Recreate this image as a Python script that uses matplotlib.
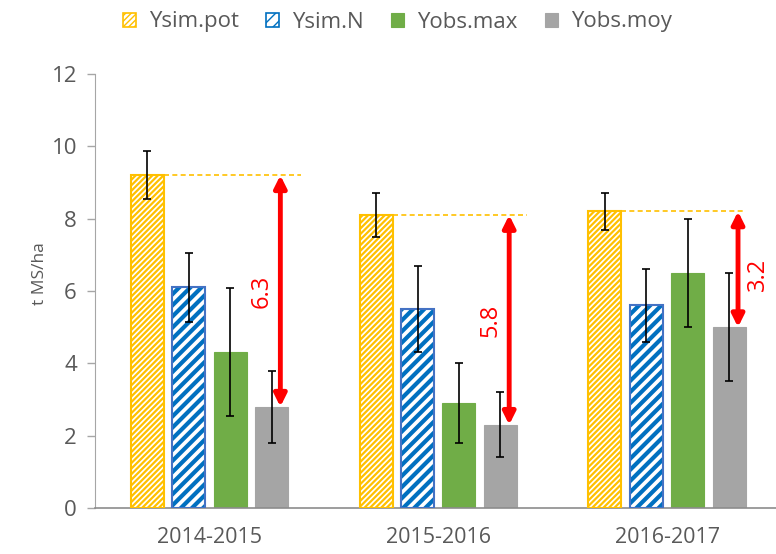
import numpy as np
import matplotlib
matplotlib.use("Agg")
import matplotlib.pyplot as plt
from matplotlib.patches import Patch

plt.rcParams['font.family'] = ['Open Sans', 'DejaVu Sans']

seasons = ["2014-2015", "2015-2016", "2016-2017"]
series = ["Ysim.pot", "Ysim.N", "Yobs.max", "Yobs.moy"]

ysim_pot = [9.2, 8.1, 8.2]
ysim_n = [6.1, 5.5, 5.6]
yobs_max = [4.3, 2.9, 6.5]
yobs_moy = [2.8, 2.3, 5.0]

err_pot = [0.67, 0.6, 0.5]
err_n = [0.95, 1.18, 1.0]
err_max = [1.77, 1.1, 1.5]
err_moy = [1.0, 0.9, 1.5]

gaps = ["6.3", "5.8", "3.2"]

values = [ysim_pot, ysim_n, yobs_max, yobs_moy]
errors = [err_pot, err_n, err_max, err_moy]

TEXT = "#595959"
styles = [
    dict(face="white", hatch="//////", hcolor="#FFC000", edge="#FFC000", hlw=1.6),
    dict(face="white", hatch="///", hcolor="#0070C0", edge="#4472C4", hlw=3.0),
    dict(face="#70AD47", hatch=None, hcolor=None, edge="#70AD47", hlw=1.0),
    dict(face="#A5A5A5", hatch=None, hcolor=None, edge="#A5A5A5", hlw=1.0),
]

fig = plt.figure(figsize=(7.76, 5.54), dpi=100)
ax = fig.add_axes([95 / 776, 46 / 554, 686.5 / 776, 434 / 554])

x = np.arange(len(seasons))
width = 0.144
pitch = 0.181

handles = []
for i, (vals, errs, st) in enumerate(zip(values, errors, styles)):
    pos = x + (i - 1.5) * pitch
    if st["hatch"]:
        with plt.rc_context({"hatch.linewidth": st["hlw"]}):
            ax.bar(pos, vals, width, color=st["face"], edgecolor=st["hcolor"],
                   hatch=st["hatch"], linewidth=0, zorder=2)
            h = Patch(facecolor=st["face"], edgecolor=st["hcolor"],
                      hatch=st["hatch"], linewidth=1.2)
        ax.bar(pos, vals, width, color="none", edgecolor=st["edge"], linewidth=1.5, zorder=3)
    else:
        ax.bar(pos, vals, width, color=st["face"], edgecolor=st["edge"],
               linewidth=0.8, zorder=2)
        h = Patch(facecolor=st["face"], edgecolor=st["edge"], linewidth=0.8)
    ax.errorbar(pos, vals, yerr=errs, fmt="none", ecolor="black", elinewidth=1.2,
                capsize=3, capthick=1.2, zorder=4)
    handles.append(h)

# dashed reference lines and gap arrows
dash_end = [0.40, 0.39, 0.345]
arrow_off = 0.31
for j in range(len(seasons)):
    x0 = x[j] - 1.5 * pitch + width / 2
    ax.plot([x0, x[j] + dash_end[j]], [ysim_pot[j], ysim_pot[j]], ls=(0, (3, 2)),
            color="#FFC000", lw=1.2, zorder=1)
    xa = x[j] + arrow_off
    ax.annotate("", xy=(xa, yobs_moy[j]), xytext=(xa, ysim_pot[j]),
                arrowprops=dict(arrowstyle="<|-|>", color="red", lw=3.5,
                                mutation_scale=18, shrinkA=0, shrinkB=0), zorder=5)
    ymid = (ysim_pot[j] + yobs_moy[j]) / 2
    if j < 2:
        ax.text(xa - 0.08, ymid, gaps[j], rotation=90, color="red", fontsize=17,
                ha="center", va="center")
    else:
        ax.text(xa + 0.085, ymid - 0.15, gaps[j], rotation=90, color="red", fontsize=17,
                ha="center", va="center")

ax.set_xlim(-0.5, 2.5)
ax.set_ylim(0, 12)
ax.set_yticks(range(0, 13, 2))
ax.set_xticks(x)
ax.set_xticklabels(seasons)
ax.tick_params(axis="x", length=0, pad=14, labelsize=15.5, labelcolor=TEXT)
ax.tick_params(axis="y", length=6, width=1, color="#A6A6A6", labelsize=16,
               labelcolor=TEXT, pad=7)
ax.text(-0.08, 0.54, "t MS/ha", transform=ax.transAxes, rotation=90, fontsize=12.5,
        color=TEXT, ha="center", va="center")

for s in ["top", "right"]:
    ax.spines[s].set_visible(False)
ax.spines["left"].set_color("#A6A6A6")
ax.spines["bottom"].set_color("#8C8C8C")
ax.spines["bottom"].set_linewidth(1.2)

fig.legend(handles, series, loc="center", bbox_to_anchor=(0.512, 1 - 22 / 554), ncol=4,
           frameon=False, fontsize=16, labelcolor=TEXT, handlelength=0.6,
           handleheight=0.6, handletextpad=0.6, columnspacing=1.2,
           borderpad=0)

fig.savefig("out.png", dpi=100)
